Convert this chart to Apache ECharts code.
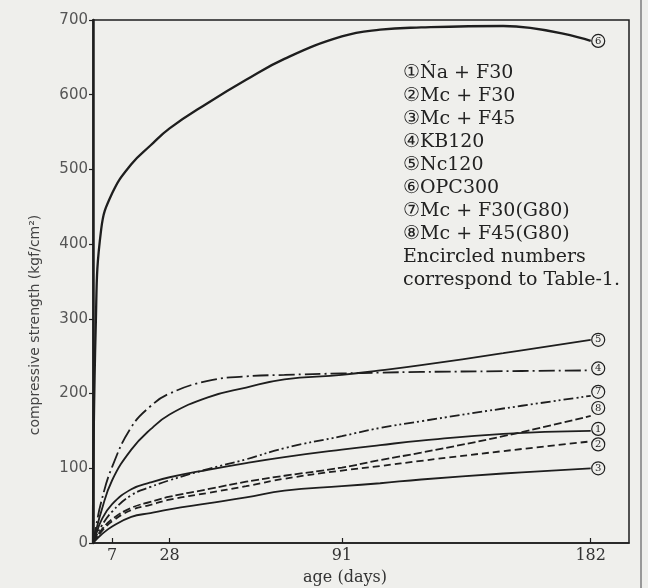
<!DOCTYPE html>
<html><head><meta charset="utf-8">
<script src="https://cdn.jsdelivr.net/npm/echarts@6/dist/echarts.min.js"></script>
<style>html,body{margin:0;padding:0;background:#efefec}#c{width:648px;height:588px}</style>
</head><body><div id="c"></div>
<script>
// age (days) sample points shared by all curves
const days = [0, 1, 3, 7, 14, 21, 28, 42, 56, 70, 91, 105, 120, 150, 182];
// compressive strength (kgf/cm2)
const s1 = [0, 10, 30, 52, 72, 81, 88, 98, 107, 115, 125, 131, 137, 146, 150];    // Ńa+F30
const s2 = [0, 5, 15, 29, 44, 51, 58, 67, 76, 86, 97, 103, 110, 123, 136];        // Mc+F30
const s3 = [0, 4, 11, 22, 35, 40, 45, 53, 61, 70, 76, 80, 85, 93, 100];           // Mc+F45
const s4 = [0, 20, 55, 102, 155, 183, 200, 217, 223, 225, 227, 228, 229, 230, 231]; // KB120
const s5 = [0, 15, 42, 84, 125, 152, 172, 195, 208, 219, 225, 231, 238, 254, 272];  // Nc120
const s6 = [0, 290, 420, 468, 507, 532, 555, 589, 620, 648, 678, 687, 690, 692, 672]; // OPC300
const s7 = [0, 8, 22, 42, 64, 75, 84, 99, 112, 127, 143, 154, 163, 180, 197];      // Mc+F30(G80)
const s8 = [0, 6, 17, 32, 47, 55, 62, 72, 82, 90, 101, 111, 121, 143, 170];        // Mc+F45(G80)

const seriesNums = ['1', '2', '3', '4', '5', '6', '7', '8'];
const xTickValues = [7, 28, 91, 182];
const legendLines = [
  '①Ńa + F30',
  '②Mc + F30',
  '③Mc + F45',
  '④KB120',
  '⑤Nc120',
  '⑥OPC300',
  '⑦Mc + F30(G80)',
  '⑧Mc + F45(G80)',
  'Encircled numbers',
  'correspond to Table-1.'
];
const yTitle = 'compressive strength (kgf/cm²)';
const xTitle = 'age (days)';

const allValues = [s1, s2, s3, s4, s5, s6, s7, s8];
const dashTypes = ['solid', [7, 4], 'solid', [16, 4, 2, 4], 'solid', 'solid', [10, 3, 2, 3, 2, 3], [8, 3]];
const labelDy = [-2, 3, 0, -2, 0, 0, -4, -8];
const widths = [1.8, 1.8, 1.8, 1.8, 1.8, 2.3, 1.8, 1.8];
const ink = '#1e1e1e';

const series = allValues.map((vals, i) => ({
  type: 'line',
  data: days.map((d, k) => [d, vals[k]]),
  showSymbol: false,
  smooth: 0.45,
  lineStyle: { color: ink, width: widths[i], type: dashTypes[i] },
  endLabel: {
    show: true,
    distance: 1,
    offset: [0, labelDy[i]],
    formatter: '{c|' + seriesNums[i] + '}',
    rich: {
      c: {
        width: 11, height: 11, lineHeight: 11, align: 'center',
        borderRadius: 7, borderWidth: 1.2, borderColor: ink,
        padding: [1, 1, 1, 1],
        fontSize: 10, fontFamily: 'DejaVu Serif', color: ink
      }
    }
  },
  z: 3
}));

const graphics = legendLines.map((t, i) => ({
  type: 'text',
  x: 403, y: 73 + i * 23,
  style: {
    text: t, font: '19px "DejaVu Serif"', fill: '#222',
    textAlign: 'left', textVerticalAlign: 'middle', align: 'left', verticalAlign: 'middle'
  }
}));
graphics.push({
  type: 'text', x: 35, y: 325, rotation: Math.PI / 2,
  style: { text: yTitle, font: '14px "DejaVu Sans"', fill: '#444',
    textAlign: 'center', textVerticalAlign: 'middle', align: 'center', verticalAlign: 'middle' }
});
graphics.push({
  type: 'text', x: 345, y: 578,
  style: { text: xTitle, font: '16px "DejaVu Serif"', fill: '#333',
    textAlign: 'center', textVerticalAlign: 'middle', align: 'center', verticalAlign: 'middle' }
});
graphics.push({
  type: 'line', shape: { x1: 641, y1: 0, x2: 641, y2: 588 },
  style: { stroke: '#999', lineWidth: 2 }
});

const chart = echarts.init(document.getElementById('c'), null, { renderer: 'canvas' });
chart.setOption({
  backgroundColor: '#efefec',
  animation: false,
  grid: { left: 93, right: 19, top: 20, bottom: 45, show: true, borderColor: ink, borderWidth: 1.5, backgroundColor: 'transparent' },
  xAxis: {
    type: 'value', min: 0, max: 196,
    axisLine: { show: true, onZero: false, lineStyle: { color: ink, width: 1.5 } },
    axisTick: { show: true, inside: true, length: 5, customValues: xTickValues, lineStyle: { color: ink, width: 1.2 } },
    axisLabel: { customValues: xTickValues, margin: 5, fontSize: 16, fontFamily: 'DejaVu Serif', color: '#333' },
    splitLine: { show: false }
  },
  yAxis: {
    type: 'value', min: 0, max: 700, interval: 100,
    axisLine: { show: true, lineStyle: { color: ink, width: 2.5 } },
    axisTick: { show: true, inside: false, length: 4, lineStyle: { color: ink, width: 1.2 } },
    axisLabel: { margin: 5, fontSize: 15, fontFamily: 'DejaVu Sans', color: '#555' },
    splitLine: { show: false }
  },
  series: series,
  graphic: graphics
});
</script>
</body></html>
